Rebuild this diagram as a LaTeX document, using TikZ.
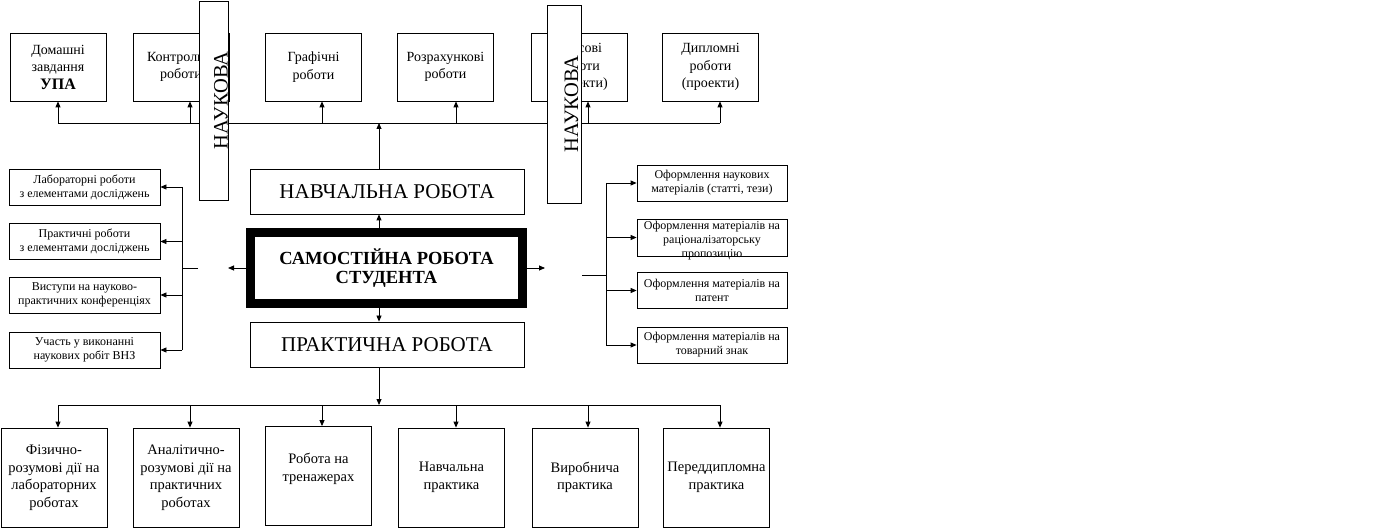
\documentclass[tikz,border=0pt]{standalone}
\usepackage{fontspec}
\setmainfont{Liberation Serif}
\usetikzlibrary{arrows.meta}
\begin{document}
\begin{tikzpicture}[x=1pt, y=-1pt, line width=0.8pt, >={Triangle[length=6pt,width=5pt]}]
\tikzstyle{box}=[draw, rectangle, fill=white, inner sep=0pt, align=center]
\tikzstyle{top}=[box, minimum width=96pt, minimum height=68pt, font=\fontsize{14}{17.5}\selectfont]
\tikzstyle{bot}=[box, minimum width=106pt, minimum height=99pt, font=\fontsize{14.5}{17.5}\selectfont]
\tikzstyle{side}=[box, minimum width=151pt, minimum height=36pt, font=\fontsize{12}{14}\selectfont]
\tikzstyle{big}=[box, minimum width=274pt, minimum height=45pt, font=\fontsize{21}{24}\selectfont]
\tikzstyle{band}=[draw, fill=white, rotate=90, inner sep=0pt, minimum width=199pt, text height=28pt, text depth=0pt, font=\fontsize{20.5}{24}\selectfont]
\useasboundingbox (0,0) rectangle (1384,529);
    \node [top] (dz) at (58,67) {Домашні\\завдання\\{\bfseries\fontsize{16}{17.5}\selectfont УПА}};
    \node [top] (kr) at (181,67) {Контрольні\\роботи};
    \node [top] (gr) at (313.5,67) {Графічні\\роботи};
    \node [top] (rr) at (445.5,67) {Розрахункові\\роботи};
    \node [top] (ks) at (579,67) {Курсові\\роботи\\(проекти)};
    \node [top] (dp) at (710.5,67) {Дипломні\\роботи\\(проекти)};
    \node [bot] (fz) at (54,477.5) {Фізично-\\розумові дії на\\лабораторних\\роботах};
    \node [bot] (an) at (186,477.5) {Аналітично-\\розумові дії на\\практичних\\роботах};
    \node [bot] (tr) at (318.5,476) {Робота на\\тренажерах\\~};
    \node [bot] (nv) at (451.5,477.5) {Навчальна\\практика};
    \node [bot] (vr) at (585,477.5) {Виробнича\\практика};
    \node [bot] (pd) at (716.5,477.5) {Переддипломна\\практика};
    \node [side] (lab) at (84.5,187) {Лабораторні роботи\\з елементами досліджень};
    \node [side] (pr) at (84.5,241.5) {Практичні роботи\\з елементами досліджень};
    \node [side] (vy) at (84.5,295) {Виступи на науково-\\практичних конференціях};
    \node [side] (uc) at (84.5,350) {Участь у виконанні\\наукових робіт ВНЗ};
    \node [side, minimum width=150pt] (on) at (712,183) {Оформлення наукових\\матеріалів (статті, тези)};
    \node [side, minimum width=150pt, minimum height=37pt] (ra) at (712,237.5) {};
    \node [align=center, inner sep=0pt, font=\fontsize{12}{14}\selectfont] (rat) at ([yshift=-3pt]ra.center) {Оформлення матеріалів на\\раціоналізаторську\\пропозицію};
    \node [side, minimum width=150pt] (pa) at (712,290.5) {Оформлення матеріалів на\\патент};
    \node [side, minimum width=150pt] (tz) at (712,345) {Оформлення матеріалів на\\товарний знак};
    \node [big] (nr) at (387,191.5) {НАВЧАЛЬНА РОБОТА};
    \node [box, line width=9pt, minimum width=272pt, minimum height=71pt, font=\bfseries\fontsize{18.5}{19.5}\selectfont] (sr) at (386.5,268) {САМОСТІЙНА РОБОТА\\СТУДЕНТА};
    \node [big] (pk) at (387,344.5) {ПРАКТИЧНА РОБОТА};
    \coordinate (c) at (379,268);
    \foreach \i/\x in {1/58,2/190,3/322,4/456,5/588,6/720}{
        \coordinate (t\i) at (\x,123);
        \coordinate (b\i) at (\x,405);
    }
    \draw (t1) -- (t6);
    \draw (b1) -- (b6);
    \foreach \i/\n in {1/dz,2/kr,3/gr,4/rr,5/ks,6/dp} \draw[->] (t\i) -- (t\i |- \n.south);
    \foreach \i/\n in {1/fz,2/an,3/tr,4/nv,5/vr,6/pd} \draw[->] (b\i) -- (b\i |- \n.north);
    \draw[->] (c |- nr.north) -- (c |- t1);
    \draw[->] (c |- sr.north) -- (c |- nr.south);
    \draw[->] (c |- sr.south) -- (c |- pk.north);
    \draw[->] (c |- pk.south) -- (c |- b1);
    \coordinate (lv) at (182,268);
    \coordinate (lw) at (198,268);
    \coordinate (la) at (228,268);
    \draw (lw) -- (lv);
    \draw (lv |- lab.east) -- (lv |- uc.east);
    \foreach \n in {lab,pr,vy,uc} \draw[->] (lv |- \n.east) -- (\n.east);
    \draw[->] (sr.west |- la) -- (la);
    \coordinate (rv) at (606,275);
    \coordinate (rw) at (582,275);
    \coordinate (ar) at (545,268);
    \draw (rw) -- (rv);
    \draw (rv |- on.west) -- (rv |- tz.west);
    \foreach \n in {on,ra,pa,tz} \draw[->] (rv |- \n.west) -- (\n.west);
    \draw[->] (sr.east) -- (sr.east -| ar);
    \node [band, minimum height=29pt] (n1) at (213.5,100.5) {НАУКОВА};
    \node [band, minimum height=34pt, minimum width=198pt] (n2) at (564,104) {НАУКОВА};
\end{tikzpicture}
\end{document}
